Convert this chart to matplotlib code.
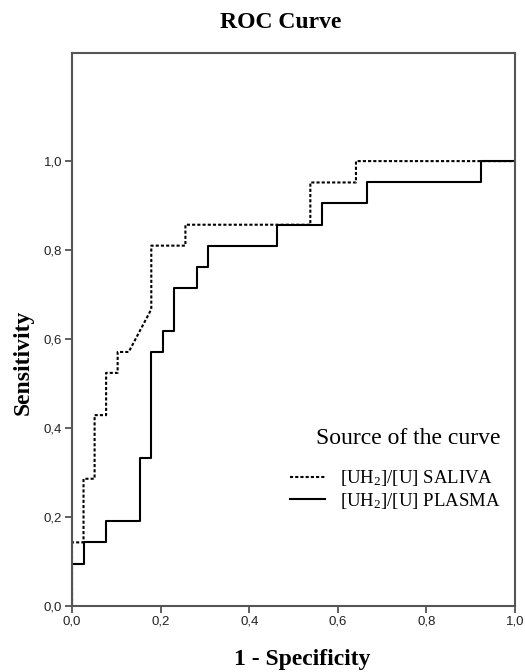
import matplotlib
matplotlib.use("Agg")
import matplotlib.pyplot as plt
from matplotlib.ticker import FuncFormatter

# ROC vertices (1 - specificity, sensitivity)
saliva_fpr = [0, 0, 0.026, 0.026, 0.051, 0.051, 0.077, 0.077, 0.103, 0.103,
              0.128, 0.179, 0.179, 0.256, 0.256, 0.538, 0.538, 0.641, 0.641, 1.0]
saliva_tpr = [0, 0.143, 0.143, 0.286, 0.286, 0.429, 0.429, 0.524, 0.524, 0.571,
              0.571, 0.667, 0.810, 0.810, 0.857, 0.857, 0.952, 0.952, 1.0, 1.0]

plasma_fpr = [0, 0, 0.026, 0.026, 0.077, 0.077, 0.154, 0.154, 0.179, 0.179,
              0.205, 0.205, 0.231, 0.231, 0.282, 0.282, 0.308, 0.308, 0.462, 0.462,
              0.564, 0.564, 0.667, 0.667, 0.923, 0.923, 1.0]
plasma_tpr = [0, 0.095, 0.095, 0.143, 0.143, 0.190, 0.190, 0.333, 0.333, 0.571,
              0.571, 0.619, 0.619, 0.714, 0.714, 0.762, 0.762, 0.810, 0.810, 0.857,
              0.857, 0.905, 0.905, 0.952, 0.952, 1.0, 1.0]

ticks = [0.0, 0.2, 0.4, 0.6, 0.8, 1.0]
labels = ["[UH$\\mathregular{_2}$]/[U] SALIVA", "[UH$\\mathregular{_2}$]/[U] PLASMA"]

serif = "Liberation Serif"
sans = "Liberation Sans"

fig = plt.figure(figsize=(5.25, 6.72), dpi=100)
ax = fig.add_axes([72 / 525, 66 / 672, 443 / 525, 553 / 672])

l1, = ax.plot(saliva_fpr, saliva_tpr, color="black", lw=1.5, ls=(0, (1.5, 1)))
l2, = ax.plot(plasma_fpr, plasma_tpr, color="black", lw=1.5)

ax.set_xlim(0, 1)
ax.set_ylim(0, 1.243)
ax.set_xticks(ticks)
ax.set_yticks(ticks)
fmt = FuncFormatter(lambda v, p: f"{v:.1f}".replace(".", ","))
ax.xaxis.set_major_formatter(fmt)
ax.yaxis.set_major_formatter(fmt)
for lab in ax.get_xticklabels() + ax.get_yticklabels():
    lab.set_fontfamily(sans)
    lab.set_fontsize(9.5)
    lab.set_color("#222222")
ax.tick_params(direction="out", length=5, width=1.2, color="#444444", pad=2)
for s in ax.spines.values():
    s.set_color("#555555")
    s.set_linewidth(1.5)

leg = ax.legend([l1, l2], labels, loc="upper left", bbox_to_anchor=(0.492, 0.3225),
                frameon=False, prop={"family": serif, "size": 13.5},
                title="Source of the curve", handlelength=1.87, handletextpad=0.8,
                labelspacing=0.15, borderpad=0, borderaxespad=0)
leg.get_title().set_fontfamily(serif)
leg.get_title().set_fontsize(17)
leg._legend_box.sep = 14
leg._legend_box.align = "right"

fig.text(281 / 525, 1 - 22 / 672, "ROC Curve", ha="center", va="center",
         family=serif, weight="bold", fontsize=17)
fig.text(302 / 525, 1 - 659 / 672, "1 - Specificity", ha="center", va="center",
         family=serif, weight="bold", fontsize=17)
fig.text(23 / 525, 1 - 362 / 672, "Sensitivity", ha="center", va="center",
         rotation=90, family=serif, weight="bold", fontsize=17)

fig.savefig("out.png", dpi=100)
